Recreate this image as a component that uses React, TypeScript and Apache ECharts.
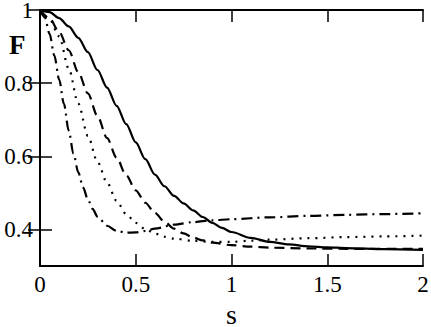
import React, { useEffect, useRef } from "react";
import * as echarts from "echarts";

const yTicks = [0.4, 0.6, 0.8, 1];

const solidS = [0, 0.05, 0.1, 0.15, 0.2, 0.25, 0.3, 0.35, 0.4, 0.45, 0.5, 0.55, 0.6, 0.65, 0.7, 0.75, 0.8, 0.85, 0.9, 0.95, 1.0, 1.1, 1.2, 1.3, 1.4, 1.5, 1.6, 1.8, 2.0];
const solidF = [1, 0.994, 0.978, 0.955, 0.924, 0.885, 0.836, 0.788, 0.738, 0.688, 0.638, 0.592, 0.55, 0.518, 0.492, 0.471, 0.452, 0.434, 0.418, 0.404, 0.393, 0.377, 0.366, 0.359, 0.354, 0.351, 0.349, 0.346, 0.344];

const dashedS = [0, 0.05, 0.1, 0.15, 0.2, 0.25, 0.3, 0.35, 0.4, 0.45, 0.5, 0.55, 0.6, 0.65, 0.7, 0.75, 0.8, 0.85, 0.9, 1.0, 1.1, 1.2, 1.4, 1.6, 2.0];
const dashedF = [1, 0.977, 0.94, 0.89, 0.83, 0.772, 0.71, 0.65, 0.596, 0.548, 0.507, 0.473, 0.445, 0.421, 0.402, 0.389, 0.378, 0.37, 0.364, 0.357, 0.353, 0.35, 0.348, 0.347, 0.347];

const dottedS = [0, 0.05, 0.1, 0.15, 0.2, 0.25, 0.3, 0.35, 0.4, 0.45, 0.5, 0.55, 0.6, 0.65, 0.7, 0.8, 0.9, 1.0, 1.1, 1.2, 1.4, 1.6, 1.8, 2.0];
const dottedF = [1, 0.975, 0.928, 0.84, 0.744, 0.656, 0.585, 0.528, 0.478, 0.442, 0.418, 0.401, 0.389, 0.38, 0.375, 0.369, 0.366, 0.366, 0.369, 0.372, 0.376, 0.379, 0.381, 0.383];

const dashDotS = [0, 0.025, 0.05, 0.075, 0.1, 0.125, 0.15, 0.175, 0.2, 0.225, 0.25, 0.275, 0.3, 0.35, 0.4, 0.45, 0.5, 0.55, 0.6, 0.7, 0.8, 0.9, 1.0, 1.2, 1.4, 1.6, 1.8, 2.0];
const dashDotF = [1, 0.98, 0.935, 0.875, 0.81, 0.743, 0.67, 0.607, 0.556, 0.515, 0.482, 0.456, 0.435, 0.41, 0.396, 0.391, 0.392, 0.396, 0.402, 0.413, 0.42, 0.425, 0.428, 0.433, 0.437, 0.44, 0.442, 0.444];

const pairs = (xs: number[], ys: number[]) => xs.map((x, i) => [x, ys[i]]);

const FONT = "Liberation Serif";

export default function App() {
  const ref = useRef<HTMLDivElement>(null);
  useEffect(() => {
    const chart = echarts.init(ref.current!, null, { renderer: "svg" });
    const axisLine = { show: true, lineStyle: { color: "#000", width: 2 } };
    const tick = { show: true, inside: true, length: 12, lineStyle: { color: "#000", width: 1.5 } };
    const labelStyle = { color: "#000", fontFamily: FONT, fontSize: 23 };
    const mkLine = (data: number[][], type: any) => ({
      type: "line",
      data,
      smooth: 0.3,
      smoothMonotone: "x",
      showSymbol: false,
      symbol: "none",
      lineStyle: { color: "#000", width: 2.2, type, cap: "butt" },
    });
    chart.setOption({
      animation: false,
      textStyle: { fontFamily: FONT, color: "#000" },
      grid: { left: 40, right: 8, top: 10, bottom: 61, containLabel: false, outerBoundsMode: "none" },
      xAxis: [
        {
          type: "value", min: 0, max: 2, interval: 0.5, position: "bottom",
          axisLine, axisTick: tick, splitLine: { show: false },
          axisLabel: { ...labelStyle, margin: 7, formatter: (v: number) => String(v) },
          name: "s", nameLocation: "middle", nameGap: 38,
          nameTextStyle: { color: "#000", fontFamily: FONT, fontSize: 28, lineHeight: 20 },
        },
        {
          type: "value", min: 0, max: 2, interval: 0.5, position: "top",
          axisLine, axisTick: tick, axisLabel: { show: false }, splitLine: { show: false },
        },
      ],
      yAxis: [
        {
          type: "value", min: 0.3, max: 1, position: "left",
          axisLine, axisTick: { ...tick, customValues: yTicks }, splitLine: { show: false },
          axisLabel: { ...labelStyle, lineHeight: 18, margin: 7, customValues: yTicks, formatter: (v: number) => String(v) },
        },
        {
          type: "value", min: 0.3, max: 1, position: "right",
          axisLine, axisTick: { ...tick, customValues: yTicks }, axisLabel: { show: false }, splitLine: { show: false },
        },
      ],
      graphic: [
        {
          type: "text", left: 9, top: 31,
          style: { text: "F", fill: "#000", font: `bold 27px "${FONT}"` },
        },
      ],
      series: [
        mkLine(pairs(solidS, solidF), "solid"),
        mkLine(pairs(dashedS, dashedF), [10, 6]),
        mkLine(pairs(dottedS, dottedF), [2, 6]),
        mkLine(pairs(dashDotS, dashDotF), [11, 5, 2, 5]),
      ],
    });
    return () => chart.dispose();
  }, []);
  return <div ref={ref} style={{ width: 431, height: 327, position: "absolute", left: 0, top: 0 }} />;
}
